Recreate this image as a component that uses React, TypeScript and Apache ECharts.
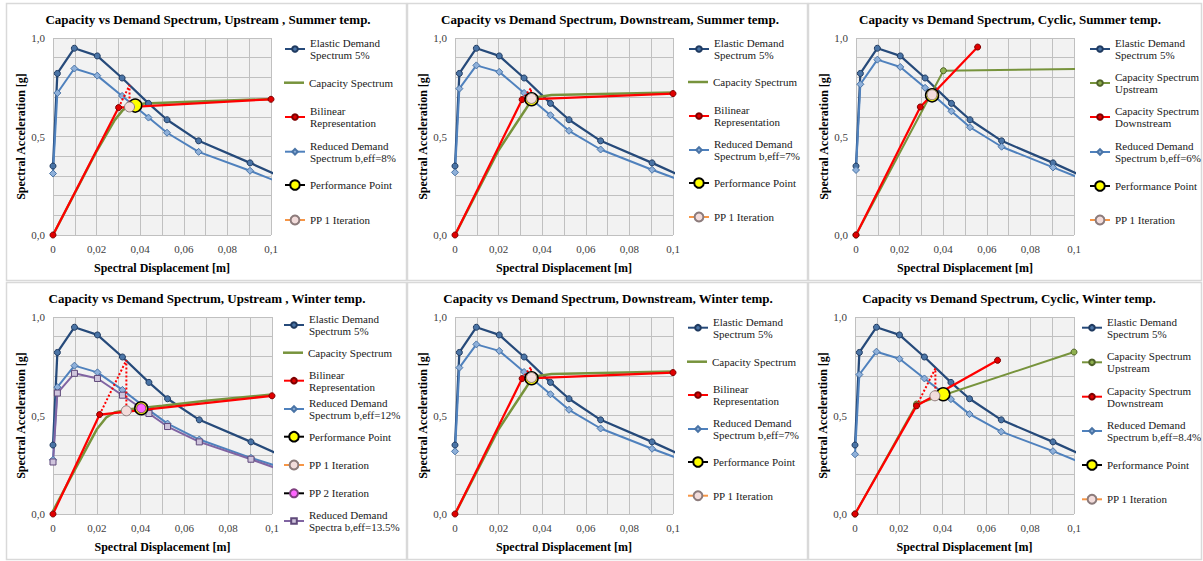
import { useEffect, useRef } from 'react';
import * as echarts from 'echarts';

const FONT = 'Liberation Serif';

type Pt = [number, number];

// ---- data ----
const SD_X = [0, 0.002, 0.0098, 0.0203, 0.0317, 0.0438, 0.0523, 0.0668, 0.0904, 0.11];
const ELASTIC_5 = [0.35, 0.82, 0.948, 0.909, 0.797, 0.668, 0.585, 0.478, 0.366, 0.268];
const REDUCED_8 = [0.312, 0.721, 0.845, 0.809, 0.706, 0.596, 0.519, 0.422, 0.326, 0.24];
const REDUCED_7 = [0.318, 0.743, 0.861, 0.828, 0.721, 0.608, 0.529, 0.434, 0.331, 0.251];
const REDUCED_6 = [0.33, 0.765, 0.89, 0.853, 0.747, 0.628, 0.547, 0.448, 0.343, 0.257];
const REDUCED_12 = [0.275, 0.644, 0.753, 0.719, 0.63, 0.527, 0.459, 0.378, 0.285, 0.216];
const REDUCED_13_5 = [0.264, 0.614, 0.714, 0.688, 0.603, 0.51, 0.444, 0.366, 0.278, 0.2];
const REDUCED_8_4 = [0.303, 0.708, 0.824, 0.788, 0.688, 0.583, 0.507, 0.418, 0.319, 0.231];

const CAP_UP_SUMMER: Pt[] = [[0, 0], [0.02, 0.425], [0.0283, 0.583], [0.0321, 0.635], [0.036, 0.657], [0.042, 0.667], [0.06, 0.675], [0.1, 0.69]];
const BIL_UP_SUMMER: Pt[] = [[0, 0], [0.0301, 0.647], [0.1, 0.689]];
const ITER_UP_SUMMER: Pt[] = [[0.0301, 0.647], [0.0351, 0.76], [0.0351, 0.65]];
const PP_UP_SUMMER: Pt[] = [[0.0377, 0.657]];
const PP1_UP_SUMMER: Pt[] = [[0.0351, 0.65]];

const CAP_DOWN: Pt[] = [[0, 0], [0.02, 0.43], [0.0321, 0.633], [0.0351, 0.685], [0.038, 0.7], [0.0443, 0.711], [0.1, 0.723]];
const BIL_DOWN: Pt[] = [[0, 0], [0.0308, 0.6875], [0.1, 0.718]];
const ITER_DOWN: Pt[] = [[0.0308, 0.6875], [0.0348, 0.745], [0.0351, 0.693]];
const PP_DOWN: Pt[] = [[0.0351, 0.689]];
const PP1_DOWN: Pt[] = [[0.0351, 0.693]];

const CAP_UPSTREAM_CYC_SUMMER: Pt[] = [[0, 0], [0.0401, 0.834], [0.11, 0.8445]];
const CAP_DOWNSTREAM_CYC_SUMMER: Pt[] = [[0, 0], [0.0295, 0.65], [0.0558, 0.954]];
const PP_CYC_SUMMER: Pt[] = [[0.0349, 0.709]];
const PP1_CYC_SUMMER: Pt[] = [[0.0349, 0.712]];

const CAP_UP_WINTER: Pt[] = [[0, 0.015], [0.01, 0.225], [0.02, 0.43], [0.0243, 0.49], [0.028, 0.515], [0.035, 0.532], [0.05, 0.55], [0.07, 0.575], [0.1, 0.607]];
const BIL_UP_WINTER: Pt[] = [[0, 0], [0.0213, 0.505], [0.1, 0.6]];
const ITER_UP_WINTER: Pt[] = [[0.0213, 0.505], [0.0335, 0.781], [0.0335, 0.524]];
const PP_UP_WINTER: Pt[] = [[0.0403, 0.537]];
const PP1_UP_WINTER: Pt[] = [[0.0335, 0.524]];
const PP2_UP_WINTER: Pt[] = [[0.0403, 0.537]];

const CAP_UPSTREAM_CYC_WINTER: Pt[] = [[0, 0], [0.0281, 0.558], [0.1, 0.822]];
const CAP_DOWNSTREAM_CYC_WINTER: Pt[] = [[0, 0], [0.0281, 0.549], [0.0651, 0.78]];
const ITER_CYC_WINTER: Pt[] = [[0.0281, 0.549], [0.0367, 0.739], [0.0367, 0.6]];
const PP_CYC_WINTER: Pt[] = [[0.0403, 0.608]];
const PP1_CYC_WINTER: Pt[] = [[0.0365, 0.6]];

const X_TICKS = { min: 0, max: 0.1, interval: 0.01 };
const Y_TICKS = { min: 0, max: 1, interval: 0.1 };

const zip = (xs: number[], ys: number[]): Pt[] => xs.map((x, i) => [x, ys[i]]);

// ---- styles ----
const KIND: Record<string, any> = {
  elastic: { line: { color: '#264a7a', width: 2.25 }, item: { color: '#4a74a6', borderColor: '#1f3a60', borderWidth: 1 }, symbol: 'circle', size: 6, lh: 7, z: 3 },
  reduced: { line: { color: '#4f81bd', width: 2 }, item: { color: '#8eb0da', borderColor: '#4a74a6', borderWidth: 1 }, symbol: 'diamond', size: 7, lh: 7, z: 3 },
  reduced2: { line: { color: '#8064a2', width: 2 }, item: { color: '#cfc4dc', borderColor: '#5f497a', borderWidth: 1 }, symbol: 'rect', size: 6, lh: 7, z: 3 },
  capacity: { line: { color: '#77933c', width: 2.5 }, item: { color: '#77933c' }, symbol: 'none', size: 0, lh: 2.5, z: 3 },
  capUp: { line: { color: '#77933c', width: 2 }, item: { color: '#8fb04f', borderColor: '#4f6228', borderWidth: 1 }, symbol: 'circle', size: 6, lh: 7, z: 3 },
  bilinear: { line: { color: '#ff0000', width: 2.25 }, item: { color: '#e00000', borderColor: '#7f0000', borderWidth: 1 }, symbol: 'circle', size: 6, lh: 7, z: 4 },
  iter: { line: { color: '#ff0000', width: 2, type: [2, 2] }, item: { color: '#ff0000' }, symbol: 'none', size: 0, lh: 3, z: 4 },
  pp: { line: { color: '#000000', width: 2 }, item: { color: '#ffff00', borderColor: '#000000', borderWidth: 1.5 }, symbol: 'circle', size: 13, lh: 12, z: 5 },
  pp1: { line: { color: '#f79646', width: 2 }, item: { color: '#f2dcdb', borderColor: '#8c7b7b', borderWidth: 1 }, symbol: 'circle', size: 10, lh: 11, z: 6 },
  pp2: { line: { color: '#000000', width: 2 }, item: { color: '#ff66ff', borderColor: '#7f3f7f', borderWidth: 1 }, symbol: 'circle', size: 9, lh: 10, z: 7 },
};

interface SDef { name: string; label?: string; kind: string; data: Pt[]; ly?: number; }
interface PDef { title: string; cx: number; cy: number; grid: any; legendLeft: number; series: SDef[]; }

const EL = 'Elastic Demand Spectrum 5%';
const ELL = 'Elastic Demand\nSpectrum 5%';

const PANELS: PDef[] = [
  {
    title: 'Capacity vs Demand Spectrum, Upstream , Summer temp.', cx: 208, cy: 19,
    grid: { left: 53, top: 38, width: 218, height: 197 }, legendLeft: 284,
    series: [
      { name: EL, label: ELL, kind: 'elastic', data: zip(SD_X, ELASTIC_5), ly: 49 },
      { name: 'Capacity Spectrum', label: 'Capacity Spectrum', kind: 'capacity', data: CAP_UP_SUMMER, ly: 82.7 },
      { name: 'Bilinear Representation', label: 'Bilinear\nRepresentation', kind: 'bilinear', data: BIL_UP_SUMMER, ly: 117 },
      { name: 'Reduced Demand Spectrum b,eff=8%', label: 'Reduced Demand\nSpectrum b,eff=8%', kind: 'reduced', data: zip(SD_X, REDUCED_8), ly: 151.7 },
      { name: 'iter1', kind: 'iter', data: ITER_UP_SUMMER },
      { name: 'Performance Point', label: 'Performance Point', kind: 'pp', data: PP_UP_SUMMER, ly: 185 },
      { name: 'PP 1 Iteration', label: 'PP 1 Iteration', kind: 'pp1', data: PP1_UP_SUMMER, ly: 220 },
    ],
  },
  {
    title: 'Capacity vs Demand Spectrum, Downstream, Summer temp.', cx: 610, cy: 19,
    grid: { left: 455, top: 38, width: 218, height: 197 }, legendLeft: 688,
    series: [
      { name: EL, label: ELL, kind: 'elastic', data: zip(SD_X, ELASTIC_5), ly: 49 },
      { name: 'Capacity Spectrum', label: 'Capacity Spectrum', kind: 'capacity', data: CAP_DOWN, ly: 82 },
      { name: 'Bilinear Representation', label: 'Bilinear\nRepresentation', kind: 'bilinear', data: BIL_DOWN, ly: 116 },
      { name: 'Reduced Demand Spectrum b,eff=7%', label: 'Reduced Demand\nSpectrum b,eff=7%', kind: 'reduced', data: zip(SD_X, REDUCED_7), ly: 150 },
      { name: 'iter2', kind: 'iter', data: ITER_DOWN },
      { name: 'Performance Point', label: 'Performance Point', kind: 'pp', data: PP_DOWN, ly: 183 },
      { name: 'PP 1 Iteration', label: 'PP 1 Iteration', kind: 'pp1', data: PP1_DOWN, ly: 217 },
    ],
  },
  {
    title: 'Capacity vs Demand Spectrum, Cyclic, Summer temp.', cx: 1010, cy: 19,
    grid: { left: 856, top: 38, width: 218, height: 197 }, legendLeft: 1089,
    series: [
      { name: EL, label: ELL, kind: 'elastic', data: zip(SD_X, ELASTIC_5), ly: 49 },
      { name: 'Capacity Spectrum Upstream', label: 'Capacity Spectrum\nUpstream', kind: 'capUp', data: CAP_UPSTREAM_CYC_SUMMER, ly: 83 },
      { name: 'Capacity Spectrum Downstream', label: 'Capacity Spectrum\nDownstream', kind: 'bilinear', data: CAP_DOWNSTREAM_CYC_SUMMER, ly: 117 },
      { name: 'Reduced Demand Spectrum b,eff=6%', label: 'Reduced Demand\nSpectrum b,eff=6%', kind: 'reduced', data: zip(SD_X, REDUCED_6), ly: 152 },
      { name: 'Performance Point', label: 'Performance Point', kind: 'pp', data: PP_CYC_SUMMER, ly: 186 },
      { name: 'PP 1 Iteration', label: 'PP 1 Iteration', kind: 'pp1', data: PP1_CYC_SUMMER, ly: 220 },
    ],
  },
  {
    title: 'Capacity vs Demand Spectrum, Upstream , Winter temp.', cx: 207, cy: 298,
    grid: { left: 53, top: 317, width: 219, height: 197 }, legendLeft: 283,
    series: [
      { name: EL, label: ELL, kind: 'elastic', data: zip(SD_X, ELASTIC_5), ly: 325 },
      { name: 'Capacity Spectrum', label: 'Capacity Spectrum', kind: 'capacity', data: CAP_UP_WINTER, ly: 352.7 },
      { name: 'Bilinear Representation', label: 'Bilinear\nRepresentation', kind: 'bilinear', data: BIL_UP_WINTER, ly: 380.7 },
      { name: 'Reduced Demand Spectrum b,eff=12%', label: 'Reduced Demand\nSpectrum b,eff=12%', kind: 'reduced', data: zip(SD_X, REDUCED_12), ly: 409 },
      { name: 'Reduced Demand Spectra b,eff=13.5%', label: 'Reduced Demand\nSpectra b,eff=13.5%', kind: 'reduced2', data: zip(SD_X, REDUCED_13_5), ly: 521 },
      { name: 'iter4', kind: 'iter', data: ITER_UP_WINTER },
      { name: 'Performance Point', label: 'Performance Point', kind: 'pp', data: PP_UP_WINTER, ly: 436.7 },
      { name: 'PP 1 Iteration', label: 'PP 1 Iteration', kind: 'pp1', data: PP1_UP_WINTER, ly: 465 },
      { name: 'PP 2 Iteration', label: 'PP 2 Iteration', kind: 'pp2', data: PP2_UP_WINTER, ly: 493.3 },
    ],
  },
  {
    title: 'Capacity vs Demand Spectrum, Downstream, Winter temp.', cx: 608, cy: 298,
    grid: { left: 455, top: 317, width: 218, height: 197 }, legendLeft: 687,
    series: [
      { name: EL, label: ELL, kind: 'elastic', data: zip(SD_X, ELASTIC_5), ly: 327.7 },
      { name: 'Capacity Spectrum', label: 'Capacity Spectrum', kind: 'capacity', data: CAP_DOWN, ly: 361.7 },
      { name: 'Bilinear Representation', label: 'Bilinear\nRepresentation', kind: 'bilinear', data: BIL_DOWN, ly: 395 },
      { name: 'Reduced Demand Spectrum b,eff=7%', label: 'Reduced Demand\nSpectrum b,eff=7%', kind: 'reduced', data: zip(SD_X, REDUCED_7), ly: 429 },
      { name: 'iter5', kind: 'iter', data: ITER_DOWN },
      { name: 'Performance Point', label: 'Performance Point', kind: 'pp', data: PP_DOWN, ly: 462 },
      { name: 'PP 1 Iteration', label: 'PP 1 Iteration', kind: 'pp1', data: PP1_DOWN, ly: 495.7 },
    ],
  },
  {
    title: 'Capacity vs Demand Spectrum, Cyclic, Winter temp.', cx: 1009, cy: 298,
    grid: { left: 855, top: 317, width: 219, height: 197 }, legendLeft: 1081,
    series: [
      { name: EL, label: ELL, kind: 'elastic', data: zip(SD_X, ELASTIC_5), ly: 327.7 },
      { name: 'Capacity Spectrum Upstream', label: 'Capacity Spectrum\nUpstream', kind: 'capUp', data: CAP_UPSTREAM_CYC_WINTER, ly: 362.3 },
      { name: 'Capacity Spectrum Downstream', label: 'Capacity Spectrum\nDownstream', kind: 'bilinear', data: CAP_DOWNSTREAM_CYC_WINTER, ly: 396.7 },
      { name: 'Reduced Demand Spectrum b,eff=8.4%', label: 'Reduced Demand\nSpectrum b,eff=8.4%', kind: 'reduced', data: zip(SD_X, REDUCED_8_4), ly: 431 },
      { name: 'iter6', kind: 'iter', data: ITER_CYC_WINTER },
      { name: 'Performance Point', label: 'Performance Point', kind: 'pp', data: PP_CYC_WINTER, ly: 465 },
      { name: 'PP 1 Iteration', label: 'PP 1 Iteration', kind: 'pp1', data: PP1_CYC_WINTER, ly: 499.3 },
    ],
  },
];

const BORDERS = [
  [6.5, 3.5, 400, 277], [407.5, 3.5, 400, 277], [808.5, 3.5, 393, 277],
  [6.5, 282.5, 400, 277], [407.5, 282.5, 400, 277], [808.5, 282.5, 393, 277],
];

const xLabel = (v: number) => {
  const k = Math.round(v * 100);
  if (k % 2 !== 0) return '';
  if (k === 0) return '0';
  if (k === 10) return '0,1';
  return (k / 100).toFixed(2).replace('.', ',');
};
const yLabel = (v: number) => {
  const k = Math.round(v * 10);
  return k % 5 === 0 ? (k / 10).toFixed(1).replace('.', ',') : '';
};

function buildOption() {
  const grid: any[] = [];
  const xAxis: any[] = [];
  const yAxis: any[] = [];
  const series: any[] = [];
  const legend: any[] = [];
  const graphic: any[] = [];

  BORDERS.forEach((b) => {
    graphic.push({
      type: 'rect', silent: true, z: -10,
      shape: { x: b[0], y: b[1], width: b[2], height: b[3] },
      style: { fill: 'none', stroke: '#d9d9d9', lineWidth: 1.5 },
    });
  });

  PANELS.forEach((p, pi) => {
    grid.push({ ...p.grid, show: true, backgroundColor: '#f2f2f2', borderWidth: 0, containLabel: false });
    xAxis.push({
      gridIndex: pi, type: 'value', ...X_TICKS,
      axisLine: { show: false }, axisTick: { show: false },
      splitLine: { show: true, lineStyle: { color: '#c0c0c0', width: 1 } },
      axisLabel: { formatter: xLabel, fontFamily: FONT, fontSize: 11, color: '#404040', margin: 8 },
      name: 'Spectral Displacement [m]', nameLocation: 'middle', nameGap: 27,
      nameTextStyle: { fontFamily: FONT, fontSize: 12, fontWeight: 'bold', color: '#000' },
    });
    yAxis.push({
      gridIndex: pi, type: 'value', ...Y_TICKS,
      axisLine: { show: false }, axisTick: { show: false },
      splitLine: { show: true, lineStyle: { color: '#c0c0c0', width: 1 } },
      axisLabel: { formatter: yLabel, fontFamily: FONT, fontSize: 11, color: '#404040', margin: 8 },
      name: 'Spectral Acceleration [g]', nameLocation: 'middle', nameGap: 26,
      nameTextStyle: { fontFamily: FONT, fontSize: 12, fontWeight: 'bold', color: '#000' },
    });
    graphic.push({
      type: 'text', x: p.cx, y: p.cy, silent: true,
      style: { text: p.title, fill: '#000', fontFamily: FONT, fontSize: 13, fontWeight: 'bold', align: 'center', verticalAlign: 'middle' },
    });

    p.series.forEach((s) => {
      const k = KIND[s.kind];
      series.push({
        type: 'line', name: s.name, xAxisIndex: pi, yAxisIndex: pi, data: s.data,
        symbol: k.symbol, symbolSize: k.size, showSymbol: k.symbol !== 'none',
        lineStyle: k.line, itemStyle: k.item, clip: true, z: k.z,
        emphasis: { disabled: true }, silent: true,
      });
      if (s.label && s.ly != null) {
        const two = s.label.indexOf('\n') >= 0;
        legend.push({
          data: [s.kind === 'capacity' ? { name: s.name, icon: 'rect' } : { name: s.name }],
          left: p.legendLeft, top: s.ly - (two ? 18 : 6),
          orient: 'vertical', padding: 0, itemGap: 0,
          itemWidth: 20, itemHeight: k.lh, selectedMode: false,
          formatter: s.label,
          textStyle: { fontFamily: FONT, fontSize: 11, lineHeight: 12, color: '#1a1a1a', padding: two ? [12, 0, 0, 0] : 0 },
        });
      }
    });
  });

  return { animation: false, backgroundColor: '#ffffff', textStyle: { fontFamily: FONT }, grid, xAxis, yAxis, series, legend, graphic };
}

export default function App() {
  const ref = useRef<HTMLDivElement>(null);
  useEffect(() => {
    if (!ref.current) return;
    const chart = echarts.init(ref.current, null, { renderer: 'svg' });
    chart.setOption(buildOption() as any);
    return () => chart.dispose();
  }, []);
  return <div ref={ref} style={{ position: 'absolute', left: 0, top: 0, width: 1203, height: 561, background: '#fff' }} />;
}
